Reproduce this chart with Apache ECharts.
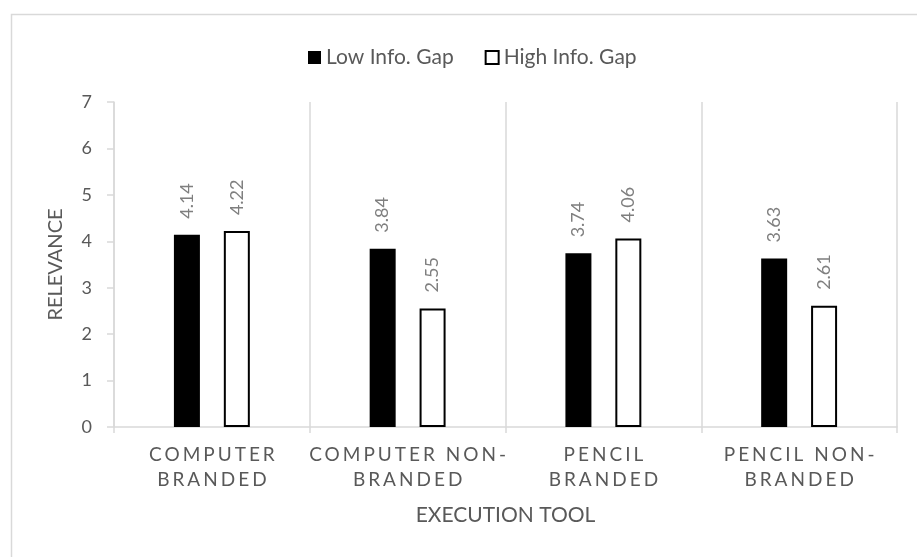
<!DOCTYPE html>
<html>
<head>
<meta charset="utf-8">
<script src="https://cdn.jsdelivr.net/npm/echarts@6/dist/echarts.min.js"></script>
<style>
html,body{margin:0;padding:0;background:#fff;}
#chart{width:917px;height:557px;}
</style>
</head>
<body>
<div id="chart"></div>
<script>
const categories = ['COMPUTER\nBRANDED', 'COMPUTER NON-\nBRANDED', 'PENCIL\nBRANDED', 'PENCIL NON-\nBRANDED'];
const seriesNames = ['Low Info. Gap', 'High Info. Gap'];
const lowGap = [4.14, 3.84, 3.74, 3.63];
const highGap = [4.22, 2.55, 4.06, 2.61];
const yMin = 0, yMax = 7, yStep = 1;

// letter-spaced category labels (as in the original Excel chart)
const spacedLines = new Set();
categories.forEach(c => c.split('\n').forEach(l => spacedLines.add(l)));
const SPACING = 3;
const origFill = CanvasRenderingContext2D.prototype.fillText;
CanvasRenderingContext2D.prototype.fillText = function (t, x, y, w) {
  const sp = spacedLines.has(t);
  this.save();
  this.letterSpacing = sp ? SPACING + 'px' : '0px';
  const f = this.font; this.font = f;
  const dx = sp ? SPACING / 2 : 0;
  if (w === undefined) origFill.call(this, t, x + dx, y);
  else origFill.call(this, t, x + dx, y, w);
  this.restore();
};

const FONT = 'Lato';
const TXT = '#595959';
const GRID = '#d9d9d9';

const chart = echarts.init(document.getElementById('chart'), null, {renderer: 'canvas'});
chart.setOption({
  animation: false,
  backgroundColor: '#fff',
  textStyle: {fontFamily: FONT},
  graphic: [{
    type: 'rect', left: 9, top: 12, shape: {width: 1000, height: 700},
    style: {fill: 'none', stroke: GRID, lineWidth: 1.5}, silent: true
  }],
  legend: {
    left: 303, top: 42,
    itemWidth: 13, itemHeight: 13, itemGap: 31,
    icon: 'rect',
    textStyle: {color: TXT, fontSize: 21, fontFamily: FONT},
    data: seriesNames
  },
  grid: {left: 114, right: 20, top: 102, bottom: 130},
  xAxis: {
    type: 'category',
    data: categories,
    axisLine: {show: true, lineStyle: {color: GRID, width: 1.5}},
    axisTick: {show: true, length: 6, alignWithLabel: false, lineStyle: {color: GRID, width: 1.5}},
    splitLine: {show: true, lineStyle: {color: GRID, width: 1.5}},
    axisLabel: {color: TXT, fontSize: 19, fontFamily: FONT, lineHeight: 25, margin: 15, interval: 0},
    name: 'EXECUTION TOOL',
    nameLocation: 'middle',
    nameGap: 78,
    nameTextStyle: {color: TXT, fontSize: 21, fontFamily: FONT}
  },
  yAxis: {
    type: 'value',
    min: yMin, max: yMax, interval: yStep,
    axisLine: {show: true, lineStyle: {color: GRID, width: 1.5}},
    axisTick: {show: true, length: 7, lineStyle: {color: GRID, width: 1.5}},
    splitLine: {show: false},
    axisLabel: {color: TXT, fontSize: 18, fontFamily: FONT, margin: 22},
    name: 'RELEVANCE',
    nameLocation: 'middle',
    nameRotate: 90,
    nameGap: 48,
    nameTextStyle: {color: TXT, fontSize: 20, fontFamily: FONT}
  },
  series: [
    {
      name: seriesNames[0], type: 'bar', data: lowGap,
      barWidth: 26, barGap: '92%',
      itemStyle: {color: '#000000'},
      label: {
        show: true, position: 'top', rotate: 90, align: 'left', verticalAlign: 'middle',
        distance: 16, color: '#7f7f7f', fontSize: 18, fontFamily: FONT,
        formatter: p => p.value.toFixed(2)
      }
    },
    {
      name: seriesNames[1], type: 'bar', data: highGap,
      barWidth: 26,
      itemStyle: {color: '#ffffff', borderColor: '#000000', borderWidth: 2},
      label: {
        show: true, position: 'top', rotate: 90, align: 'left', verticalAlign: 'middle',
        distance: 16, color: '#7f7f7f', fontSize: 18, fontFamily: FONT,
        formatter: p => p.value.toFixed(2)
      }
    }
  ]
});
</script>
</body>
</html>
